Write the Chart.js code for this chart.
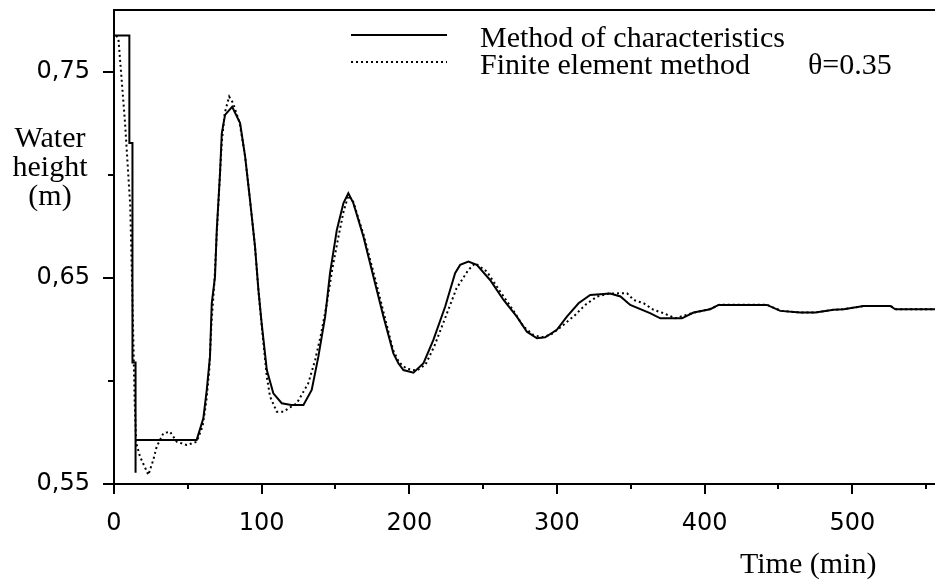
<!DOCTYPE html>
<html>
<head>
<meta charset="utf-8">
<script src="https://cdn.jsdelivr.net/npm/chart.js@4/dist/chart.umd.min.js"></script>
<style>
	body { margin: 0; background: #fff; }
	#wrap { width: 935px; height: 583px; }
</style>
</head>
<body>
<div id="wrap"><canvas id="myChart" width="935" height="583"></canvas></div>
<script>
// time in minutes, water height in metres
const mocTime = [0, 10.4, 10.4, 12.5, 12.5, 14.6, 14.6, 14.6, 20, 30, 40, 50, 56, 60.5, 62.8, 65, 66.2, 68.4, 69.6, 71.8, 73, 75.2, 80,
	85.4, 88.8, 92.1, 95.5, 97.8, 100, 103.5, 107.9, 113.6, 120, 128.3, 133.9, 138.4, 143, 146.3, 150.9, 155.4, 158.7, 162.1, 168.9,
	175.7, 182.5, 189.2, 192.6, 196, 202.8, 209.6, 216.3, 224.3, 231, 234.4, 240, 245.7, 254.7, 263.8, 272.8, 279.6, 286.4, 292,
	299.9, 306.7, 314.6, 322.5, 336, 343, 349.6, 363, 370, 384.6, 392.5, 403.8, 409.4, 442.2, 451.2, 464.8, 475, 487.3, 494.1,
	507.7, 525.7, 529.1, 556];
const mocHeight = [0.7676, 0.7676, 0.7155, 0.7155, 0.609, 0.609, 0.5555, 0.5714, 0.5714, 0.5714, 0.5714, 0.5714, 0.5714, 0.5819, 0.5956, 0.6118, 0.6377, 0.6506, 0.6733, 0.7008, 0.7202, 0.7291, 0.733,
	0.7251, 0.7089, 0.6879, 0.6652, 0.6442, 0.628, 0.6053, 0.594, 0.5892, 0.5883, 0.5883, 0.5956, 0.6118, 0.6312, 0.6523, 0.6733, 0.6863, 0.6911, 0.6863, 0.6701,
	0.6506, 0.6312, 0.6134, 0.6086, 0.6053, 0.604, 0.6086, 0.6199, 0.6361, 0.6523, 0.6563, 0.6579, 0.6563, 0.649, 0.6393, 0.6312, 0.6239, 0.6207, 0.6212,
	0.6248, 0.6312, 0.6377, 0.6417, 0.6424, 0.641, 0.6369, 0.6329, 0.6304, 0.6304, 0.6332, 0.6348, 0.6369, 0.6369, 0.634, 0.6332, 0.6332, 0.6345, 0.6348,
	0.6364, 0.6364, 0.6348, 0.6348];

const femTime = [1.5, 3, 7.5, 9.5, 11, 12.5, 14, 15, 17.6, 23.3, 26.6, 28.9, 33.4, 37.9, 42.5, 49.3, 56, 60, 62.5, 64.5, 66, 68, 69.5,
	71.5, 73, 75, 78, 80.5, 85, 88.8, 92.1, 95.5, 97.8, 100, 103.5, 105.7, 110.2, 114.7, 123.8, 131.6, 136.2, 140, 144, 148, 152,
	155.4, 158.7, 162, 169, 176, 183, 189, 193, 198, 205, 211, 217, 224.5, 232, 235.6, 240, 244.6, 252.5, 261.5, 269.4, 277.3,
	284.1, 289.8, 296, 304.4, 312.3, 319.1, 327, 335, 347.4, 351.9, 358.7, 365.4, 372.2, 380, 392, 404, 410, 442, 452, 465, 475,
	487, 494, 508, 526, 530, 556];
const femHeight = [0.7676, 0.766, 0.725, 0.702, 0.685, 0.64, 0.59, 0.57, 0.5633, 0.5544, 0.5617, 0.5681, 0.5746, 0.5754, 0.5705, 0.5689, 0.5705, 0.578, 0.59, 0.605, 0.628, 0.648, 0.67,
	0.697, 0.716, 0.73, 0.738, 0.735, 0.7255, 0.709, 0.688, 0.665, 0.644, 0.627, 0.602, 0.5924, 0.5851, 0.5851, 0.5892, 0.5989, 0.6102, 0.622, 0.637, 0.655, 0.67,
	0.682, 0.69, 0.687, 0.671, 0.652, 0.632, 0.615, 0.609, 0.606, 0.605, 0.608, 0.617, 0.631, 0.645, 0.649, 0.6539, 0.6571, 0.6531, 0.6434, 0.6353, 0.6264,
	0.6223, 0.6212, 0.6225, 0.6272, 0.632, 0.6369, 0.6409, 0.6424, 0.6426, 0.6393, 0.6377, 0.6345, 0.6329, 0.6304, 0.633, 0.635, 0.637, 0.637, 0.634, 0.6332, 0.6332,
	0.6345, 0.6348, 0.6364, 0.6364, 0.6348, 0.6348];

const seriesNames = ['Method of characteristics', 'Finite element method'];
const thetaNote = '\u03b8=0.35';
const yTickValues = [0.55, 0.65, 0.75];
const yTickLabels = ['0,55', '0,65', '0,75'];
const xTickValues = [0, 100, 200, 300, 400, 500];
const xTickLabels = ['0', '100', '200', '300', '400', '500'];
const yTitle = ['Water', 'height', '(m)'];
const xTitle = 'Time (min)';

const serif = '"Liberation Serif", "Times New Roman", serif';
const sans = '"DejaVu Sans", sans-serif';

function pairUp(ts, hs) {
	return ts.map((t, i) => ({ x: t, y: hs[i] }));
}

function yLabelFor(v) {
	let i = yTickValues.findIndex(t => Math.abs(t - v) < 1e-6);
	return i < 0 ? '' : yTickLabels[i];
}
function xLabelFor(v) {
	let i = xTickValues.findIndex(t => Math.abs(t - v) < 1e-6);
	return i < 0 ? '' : xTickLabels[i];
}

// no extra room for half tick labels, the frame runs to the canvas edge
function noPad(s) {
	s.paddingTop = 0;
	s.paddingBottom = 0;
	s.paddingLeft = 0;
	s.paddingRight = 0;
}

// tick marks, top frame line, legend and axis titles
const decor = {
	id: 'decor',
	afterDraw(chart) {
		const ctx = chart.ctx;
		const a = chart.chartArea;
		const x = chart.scales.x, y = chart.scales.y;
		ctx.save();
		ctx.strokeStyle = '#000';
		ctx.lineWidth = 2;
		ctx.beginPath();
		ctx.moveTo(a.left - 1, a.top);
		ctx.lineTo(a.right, a.top);
		y.ticks.forEach(t => {
			let p = Math.round(y.getPixelForValue(t.value));
			let len = yLabelFor(t.value) ? 11 : 6;
			ctx.moveTo(a.left - len, p);
			ctx.lineTo(a.left, p);
		});
		x.ticks.forEach(t => {
			let p = Math.round(x.getPixelForValue(t.value));
			let len = xLabelFor(t.value) ? 10 : 5;
			ctx.moveTo(p, a.bottom);
			ctx.lineTo(p, a.bottom + len);
		});
		ctx.stroke();

		// legend
		const ds = chart.data.datasets;
		ctx.beginPath();
		ctx.moveTo(351, 35);
		ctx.lineTo(447, 35);
		ctx.stroke();
		ctx.setLineDash(ds[1].borderDash);
		ctx.beginPath();
		ctx.moveTo(351, 62);
		ctx.lineTo(447, 62);
		ctx.stroke();
		ctx.setLineDash([]);

		ctx.fillStyle = '#000';
		ctx.font = '30px ' + serif;
		ctx.textBaseline = 'alphabetic';
		ctx.textAlign = 'left';
		ctx.fillText(ds[0].label, 480, 47);
		ctx.fillText(ds[1].label, 480, 74);
		ctx.fillText(thetaNote, 808, 74);
		ctx.fillText(xTitle, 740, 573);

		ctx.textAlign = 'center';
		yTitle.forEach((s, i) => ctx.fillText(s, 50, 147 + i * 29));
		ctx.restore();
	}
};

const myChart = new Chart(document.getElementById('myChart'), {
	type: 'scatter',
	data: {
		datasets: [{
			label: seriesNames[0],
			data: pairUp(mocTime, mocHeight),
			showLine: true,
			borderColor: '#000',
			borderWidth: 2,
			pointRadius: 0,
			tension: 0
		}, {
			label: seriesNames[1],
			data: pairUp(femTime, femHeight),
			showLine: true,
			borderColor: '#000',
			borderWidth: 2,
			borderDash: [2, 3],
			pointRadius: 0,
			tension: 0
		}]
	},
	options: {
		responsive: false,
		animation: false,
		layout: { padding: { top: 10, right: 0, left: 0, bottom: 0 } },
		plugins: { legend: { display: false }, tooltip: { enabled: false } },
		scales: {
			x: {
				type: 'linear',
				min: 0,
				max: 556,
				grid: { display: false, drawTicks: true, tickLength: 10 },
				border: { display: true, color: '#000', width: 2 },
				ticks: {
					stepSize: 50,
					includeBounds: false,
					autoSkip: false,
					maxRotation: 0,
					padding: 15,
					color: '#000',
					font: { family: sans, size: 24 },
					callback: v => xLabelFor(v)
				},
				afterFit: s => { s.height = 99; noPad(s); }
			},
			y: {
				type: 'linear',
				min: 0.55,
				max: 0.78,
				grid: { display: false, drawTicks: true, tickLength: 11 },
				border: { display: true, color: '#000', width: 2 },
				ticks: {
					stepSize: 0.05,
					includeBounds: false,
					autoSkip: false,
					padding: 13,
					color: '#000',
					font: { family: sans, size: 24 },
					callback: v => yLabelFor(v)
				},
				afterFit: s => { s.width = 114; noPad(s); }
			}
		}
	},
	plugins: [decor]
});
</script>
</body>
</html>
